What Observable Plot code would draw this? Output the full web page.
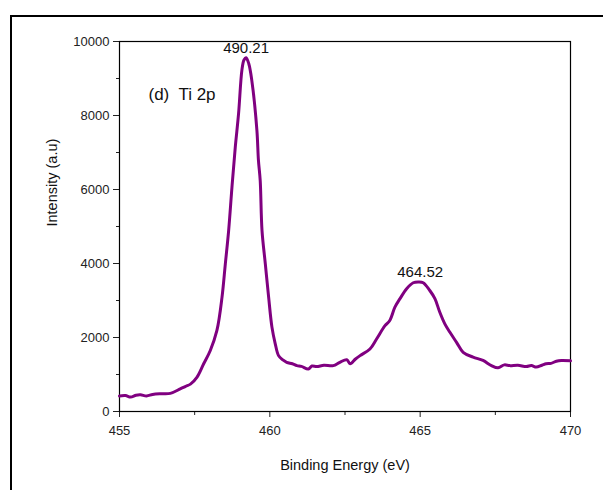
<!DOCTYPE html>
<html>
<head>
<meta charset="utf-8">
<script src="https://cdn.jsdelivr.net/npm/d3@7"></script>
<script src="https://cdn.jsdelivr.net/npm/@observablehq/plot@0.6"></script>
<style>
  html, body { margin: 0; padding: 0; background: #fff; }
  #wrap { position: relative; width: 603px; height: 490px; overflow: hidden; }
  #border { position: absolute; left: 10px; top: 15px; width: 700px; height: 600px;
            border-left: 2.5px solid #000; border-top: 2.5px solid #000; }
  #chart { position: absolute; left: 0; top: 0; }
</style>
</head>
<body>
<div id="wrap"><div id="border"></div><div id="chart"></div></div>
<script>
// Binding energy (eV) and intensity (a.u.)
const energy = [455.0, 455.2, 455.37, 455.55, 455.7, 455.9, 456.1, 456.36, 456.69, 457.02, 457.2, 457.36, 457.58, 457.8, 458.02, 458.24, 458.41, 458.52, 458.63, 458.74, 458.85, 458.96, 459.07, 459.14, 459.21, 459.3, 459.4, 459.57, 459.62, 459.68, 459.74, 459.85, 459.96, 460.07, 460.18, 460.29, 460.42, 460.56, 460.75, 460.9, 461.05, 461.28, 461.4, 461.56, 461.8, 462.11, 462.33, 462.56, 462.67, 462.85, 463.0, 463.33, 463.55, 463.83, 463.99, 464.16, 464.33, 464.55, 464.77, 464.95, 465.1, 465.32, 465.49, 465.65, 465.82, 465.99, 466.21, 466.43, 466.76, 467.09, 467.37, 467.59, 467.8, 467.98, 468.25, 468.53, 468.7, 468.86, 469.05, 469.19, 469.35, 469.53, 469.7, 470.0];
const intensity = [420, 430, 390, 440, 450, 420, 460, 480, 490, 610, 680, 740, 930, 1290, 1650, 2190, 3090, 3990, 4890, 6060, 7140, 8050, 9220, 9500, 9560, 9400, 8950, 7600, 6800, 6240, 4890, 3990, 3090, 2280, 1830, 1510, 1400, 1330, 1290, 1240, 1220, 1150, 1230, 1215, 1250, 1240, 1330, 1400, 1290, 1420, 1510, 1690, 1960, 2320, 2460, 2820, 3050, 3320, 3480, 3500, 3480, 3270, 3050, 2690, 2370, 2140, 1870, 1600, 1470, 1380, 1240, 1180, 1260, 1240, 1250, 1215, 1240, 1200, 1250, 1290, 1300, 1360, 1380, 1370];

const xMajor = [455, 460, 465, 470];
const xMinor = [457.5, 462.5, 467.5];
const yMajor = [0, 2000, 4000, 6000, 8000, 10000];
const yMinor = [1000, 3000, 5000, 7000, 9000];

const peakX = [459.21, 465.0];
const peakY = [9560, 3500];
const peakLabels = ["490.21", "464.52"];
const panelLabel = ["(d)  Ti 2p"];

const data = energy.map((e, i) => ({e, v: intensity[i]}));
const peaks = peakX.map((x, i) => ({x, y: peakY[i], t: peakLabels[i]}));

const chart = Plot.plot({
  width: 603,
  height: 490,
  marginLeft: 119,
  marginRight: 33,
  marginTop: 41,
  marginBottom: 79,
  style: {fontFamily: "'Liberation Sans', Arial, sans-serif", background: "transparent", color: "#222"},
  x: {domain: [455, 470]},
  y: {domain: [0, 10000]},
  marks: [
    Plot.axisX({ticks: xMajor, tickSize: 6, tickPadding: 8, fontSize: 13, label: null, tickFormat: d => String(d)}),
    Plot.axisX({ticks: xMinor, tickSize: 4, tickFormat: () => "", label: null}),
    Plot.axisY({ticks: yMajor, tickSize: 6, tickPadding: 4, fontSize: 13, label: null, tickFormat: d => String(d)}),
    Plot.axisY({ticks: yMinor, tickSize: 3, tickFormat: () => "", label: null}),
    Plot.frame({stroke: "#000", strokeWidth: 1.2}),
    Plot.line(data, {x: "e", y: "v", stroke: "#800080", strokeWidth: 3, strokeLinejoin: "round", curve: "catmull-rom"}),
    Plot.text(peaks, {x: "x", y: "y", text: "t", dy: -10, fontSize: 15, fill: "#111"}),
    Plot.text(panelLabel, {frameAnchor: "top-left", dx: 29, dy: 46, fontSize: 17, fill: "#111"}),
    Plot.text(["Binding Energy (eV)"], {frameAnchor: "bottom", dy: 58, fontSize: 14.5, fill: "#111"}),
    Plot.text(["Intensity (a.u)"], {frameAnchor: "left", dx: -67, rotate: -90, fontSize: 14.5, fill: "#111"})
  ]
});
document.getElementById("chart").appendChild(chart);
</script>
</body>
</html>
